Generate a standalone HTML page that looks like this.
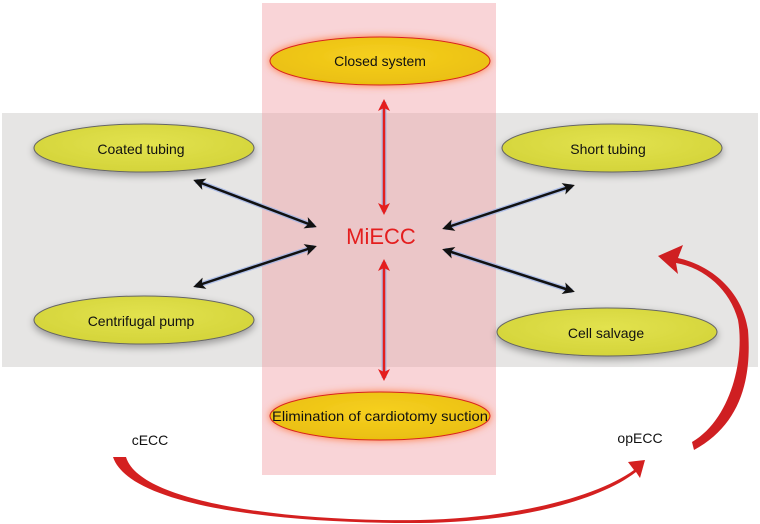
<!DOCTYPE html>
<html><head><meta charset="utf-8"><style>
body{margin:0;background:#fff}
svg{display:block}
text{font-family:"Liberation Sans",sans-serif}
</style></head><body>
<svg width="760" height="524" viewBox="0 0 760 524" xmlns="http://www.w3.org/2000/svg">
<defs>
<radialGradient id="y1" cx="50%" cy="40%" r="60%"><stop offset="0" stop-color="#e2e24e"/><stop offset="1" stop-color="#d4d43a"/></radialGradient>
<radialGradient id="y2" cx="50%" cy="40%" r="60%"><stop offset="0" stop-color="#f6d020"/><stop offset="1" stop-color="#eabf10"/></radialGradient>
<filter id="sh" x="-20%" y="-40%" width="140%" height="180%"><feGaussianBlur in="SourceAlpha" stdDeviation="4"/><feOffset dx="0" dy="3"/><feComponentTransfer><feFuncA type="linear" slope="0.35"/></feComponentTransfer><feMerge><feMergeNode/><feMergeNode in="SourceGraphic"/></feMerge></filter>
<filter id="gl" x="-20%" y="-50%" width="140%" height="200%"><feFlood flood-color="#ff7a40"/><feComposite operator="in" in2="SourceAlpha"/><feGaussianBlur stdDeviation="4"/><feMerge><feMergeNode/><feMergeNode in="SourceGraphic"/></feMerge></filter>
<marker id="ab" markerWidth="12" markerHeight="12" refX="9" refY="6" orient="auto-start-reverse" markerUnits="userSpaceOnUse"><path d="M0,0 L12,6 L0,12 L3,6z" fill="#111"/></marker>
<marker id="ar" markerWidth="12" markerHeight="12" refX="9" refY="6" orient="auto-start-reverse" markerUnits="userSpaceOnUse"><path d="M0,0 L12,6 L0,12 L3,6z" fill="#e41e1e"/></marker>
</defs>
<rect x="2" y="113" width="756" height="254" fill="#e6e5e4"/>
<rect x="262" y="3" width="234" height="472" fill="#f2a0a6" opacity="0.45"/>
<ellipse cx="144" cy="148" rx="110" ry="24" fill="url(#y1)" stroke="#666" stroke-width="1" filter="url(#sh)"/>
<ellipse cx="144" cy="320" rx="110" ry="24" fill="url(#y1)" stroke="#666" stroke-width="1" filter="url(#sh)"/>
<ellipse cx="612" cy="148" rx="110" ry="24" fill="url(#y1)" stroke="#666" stroke-width="1" filter="url(#sh)"/>
<ellipse cx="607" cy="332" rx="110" ry="24" fill="url(#y1)" stroke="#666" stroke-width="1" filter="url(#sh)"/>
<ellipse cx="380" cy="61" rx="110" ry="24" fill="url(#y2)" stroke="#d82020" stroke-width="1" filter="url(#gl)"/>
<ellipse cx="380" cy="416" rx="110" ry="24" fill="url(#y2)" stroke="#d82020" stroke-width="1" filter="url(#gl)"/>
<g font-size="14" fill="#111" text-anchor="middle">
<text x="141" y="154">Coated tubing</text>
<text x="141" y="326">Centrifugal pump</text>
<text x="608" y="154">Short tubing</text>
<text x="606" y="338">Cell salvage</text>
<text x="380" y="66">Closed system</text>
<text x="380" y="421" textLength="216" lengthAdjust="spacingAndGlyphs">Elimination of cardiotomy suction</text>
<text x="150" y="445">cECC</text>
<text x="640" y="443">opECC</text>
</g>
<text x="381" y="244" font-size="22" fill="#e41e1e" text-anchor="middle">MiECC</text>
<g stroke="#9fb4e8" stroke-width="5" opacity="0.8" fill="none">
<line x1="196" y1="181" x2="314" y2="226"/><line x1="196" y1="286" x2="314" y2="247"/>
<line x1="572" y1="186" x2="445" y2="228"/><line x1="572" y1="291" x2="445" y2="250"/>
<line x1="384" y1="102" x2="384" y2="212"/><line x1="384" y1="262" x2="384" y2="378"/>
</g>
<g stroke="#111" stroke-width="2.5" fill="none">
<line x1="196" y1="181" x2="314" y2="226" marker-start="url(#ab)" marker-end="url(#ab)"/>
<line x1="196" y1="286" x2="314" y2="247" marker-start="url(#ab)" marker-end="url(#ab)"/>
<line x1="572" y1="186" x2="445" y2="228" marker-start="url(#ab)" marker-end="url(#ab)"/>
<line x1="572" y1="291" x2="445" y2="250" marker-start="url(#ab)" marker-end="url(#ab)"/>
</g>
<g stroke="#e41e1e" stroke-width="2.5" fill="none">
<line x1="384" y1="102" x2="384" y2="212" marker-start="url(#ar)" marker-end="url(#ar)"/>
<line x1="384" y1="262" x2="384" y2="378" marker-end="url(#ar)" marker-start="url(#ar)"/>
</g>
<path d="M113,457 L126,457 C140,505 300,522 420,520 C520,518 600,495 634,470 L628,462 L645,460 L640,478 L636,472 C600,500 520,522 420,523 C290,524 130,508 113,457Z" fill="#d42020"/>
<path d="M692,442 C730,420 745,360 738,320 C730,290 705,268 676,263 L678,274 L658,256 L683,245 L678,258 C710,265 742,290 748,330 C752,380 740,425 694,450Z" fill="#cf1f22"/>
</svg>
</body></html>
